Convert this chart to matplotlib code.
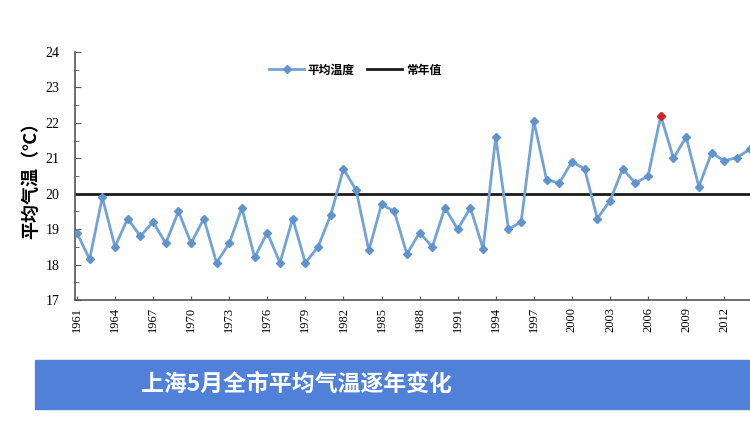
import matplotlib
matplotlib.use("Agg")
import matplotlib.pyplot as plt
from matplotlib.patches import Rectangle

plt.rcParams['font.family'] = ['Noto Sans CJK SC', 'DejaVu Sans']

# May mean temperature, Shanghai (whole city)
years = list(range(1961, 2015))
temps = [18.9, 18.15, 19.9, 18.5, 19.3, 18.8, 19.2, 18.6, 19.5, 18.6,
         19.3, 18.05, 18.6, 19.6, 18.2, 18.9, 18.05, 19.3, 18.05, 18.5,
         19.4, 20.7, 20.1, 18.4, 19.7, 19.5, 18.3, 18.9, 18.5, 19.6,
         19.0, 19.6, 18.45, 21.6, 19.0, 19.2, 22.05, 20.4, 20.3, 20.9,
         20.7, 19.3, 19.8, 20.7, 20.3, 20.5, 22.2, 21.0, 21.6, 20.2,
         21.15, 20.93, 21.02, 21.25]
normal = 20.0
record_year = 2007
record_temp = 22.2
tick_years = list(range(1961, 2013, 3))

fig = plt.figure(figsize=(7.5, 4.21), dpi=100)
# axes deliberately runs past the right edge, like the cropped screenshot
ax = fig.add_axes([75 / 750, 121 / 421, 700 / 750, 248 / 421])

blue = '#72a3d3'
ax.plot(years, temps, color=blue, lw=2, marker='D', ms=4,
        mfc='#5f93cb', mec='#5f93cb', label='平均温度', zorder=3)
ax.axhline(normal, color='#1a1a1a', lw=2, label='常年值', zorder=2)
ax.plot([record_year], [record_temp], marker='D', ms=4.5, color='#e0201c',
        ls='none', zorder=4)

ax.set_xlim(1960.85, 2016)
ax.set_ylim(17, 24)
ax.set_yticks(range(17, 25))
ax.set_yticks([v + 0.5 for v in range(17, 24)], minor=True)
ax.set_xticks(tick_years)
ax.set_xticklabels([str(y) for y in tick_years], rotation=90,
                   family='Liberation Serif', fontsize=9)
for lab in ax.get_yticklabels():
    lab.set_family('Liberation Serif')
    lab.set_fontsize(10)
ax.tick_params(axis='both', which='both', direction='in', color='#555555')
ax.tick_params(axis='y', which='major', length=4, pad=11)
ax.tick_params(axis='y', which='minor', length=3)
ax.tick_params(axis='x', length=3, pad=5)

for s in ['top', 'right']:
    ax.spines[s].set_visible(False)
for s in ['left', 'bottom']:
    ax.spines[s].set_color('#555555')
    ax.spines[s].set_linewidth(1.2)

ax.set_ylabel('平均气温（℃）', fontsize=13, fontweight='bold', labelpad=4)

leg = fig.legend(loc='center', bbox_to_anchor=(355 / 750, 1 - 70 / 421), ncol=2,
                 frameon=False, fontsize=8.5, handlelength=3, columnspacing=1.0,
                 handletextpad=0.3)
for t in leg.get_texts():
    t.set_fontweight('bold')

# title banner at the bottom
fig.patches.append(Rectangle((35 / 750, 12 / 421), 720 / 750, 49 / 421,
                             transform=fig.transFigure, color='#5080d8', zorder=0))
fig.text(296 / 750, 1 - 384 / 421, '上海5月全市平均气温逐年变化', color='white',
         fontsize=16.5, fontweight='bold', ha='center', va='center')

fig.savefig('out.png', dpi=100)
